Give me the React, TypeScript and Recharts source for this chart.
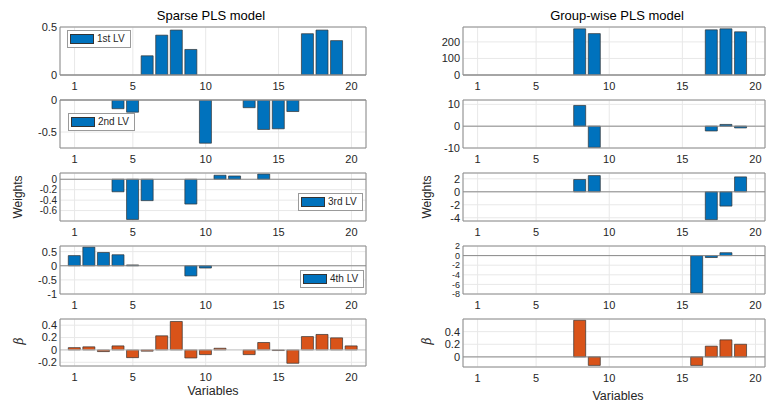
import React from 'react';
import { BarChart, Bar, XAxis, YAxis, CartesianGrid, ReferenceLine, Legend } from 'recharts';

const variables = [1, 2, 3, 4, 5, 6, 7, 8, 9, 10, 11, 12, 13, 14, 15, 16, 17, 18, 19, 20];
const xTicks = [1, 5, 10, 15, 20];

// Sparse PLS model weights
const sparseLV1 = [0, 0, 0, 0, 0, 0.2, 0.415, 0.468, 0.266, 0, 0, 0, 0, 0, 0, 0, 0.43, 0.468, 0.358, 0];
const sparseLV2 = [0, 0, 0, -0.136, -0.19, 0, 0, 0, 0, -0.675, 0, 0, -0.12, -0.46, -0.45, -0.18, 0, 0, 0, 0];
const sparseLV3 = [0, 0, 0, -0.24, -0.77, -0.41, 0, 0, -0.475, 0, 0.077, 0.063, 0, 0.1, 0, 0, 0, 0, 0, 0];
const sparseLV4 = [0.36, 0.66, 0.47, 0.39, 0.03, 0, 0, 0, -0.36, -0.08, 0, 0, 0, 0, 0, 0, 0, 0, 0, 0];
const sparseBeta = [0.037, 0.05, -0.027, 0.065, -0.125, -0.02, 0.228, 0.46, -0.13, -0.076, 0.027, 0, -0.076, 0.12, -0.01, -0.216, 0.216, 0.25, 0.195, 0.065];

// Group-wise PLS model weights
const groupLV1 = [0, 0, 0, 0, 0, 0, 0, 279, 250, 0, 0, 0, 0, 0, 0, 0, 273, 279, 261, 0];
const groupLV2 = [0, 0, 0, 0, 0, 0, 0, 9.5, -9.7, 0, 0, 0, 0, 0, 0, 0, -2.2, 0.8, -0.8, 0];
const groupLV3 = [0, 0, 0, 0, 0, 0, 0, 1.9, 2.5, 0, 0, 0, 0, 0, 0, 0, -4.3, -2.2, 2.3, 0];
const groupLV4 = [0, 0, 0, 0, 0, 0, 0, 0, 0, 0, 0, 0, 0, 0, 0, -7.8, -0.4, 0.6, 0, 0];
const groupBeta = [0, 0, 0, 0, 0, 0, 0, 0.58, -0.135, 0, 0, 0, 0, 0, 0, -0.135, 0.17, 0.27, 0.2, 0];

const BLUE = '#0072BD';
const ORANGE = '#D95319';
const BOX = '#8c8c8c';
const FONT = '"Liberation Sans", Arial, sans-serif';

const YW = 60;
const XH = 30;
const PAD = 5;

type LegendSpec = { label: string; x: number; y: number };

const LegendBox = ({ label, color }: { label: string; color: string }) => (
  <div style={{
    display: 'flex', alignItems: 'center', border: '1px solid #9a9a9a', background: '#fff',
    padding: '3px 5px 3px 2px', fontSize: 10, fontFamily: FONT, color: '#262626', lineHeight: '10px',
  }}>
    <span style={{ width: 22, height: 8, background: color, border: '1px solid #333', marginRight: 3 }} />
    {label}
  </div>
);

function Panel({ data, px, py, pw, ph, xMax, yDomain, yTicks, color, zero = '#8a8a8a', legend, yFont = 11 }: {
  data: number[]; px: number; py: number; pw: number; ph: number; xMax: number;
  yDomain: [number, number]; yTicks: number[]; color: string; zero?: string; legend?: LegendSpec; yFont?: number;
}) {
  const rows = variables.map((v, i) => ({ v, w: data[i] }));
  const left = px - YW;
  const top = py - PAD;
  return (
    <div style={{ position: 'absolute', left, top }}>
      <BarChart width={pw + YW + PAD} height={ph + PAD + XH} data={rows}
        margin={{ top: PAD, right: PAD, bottom: 0, left: 0 }}>
        <CartesianGrid stroke="#e8e8e8" />
        <XAxis dataKey="v" type="number" domain={[0, xMax]} ticks={xTicks} interval={0} allowDataOverflow
          height={XH} tickSize={4} tickMargin={3} tickLine={false} axisLine={{ stroke: BOX }}
          tick={{ fill: '#262626', fontSize: 11, fontFamily: FONT }} />
        <YAxis type="number" domain={yDomain} ticks={yTicks} interval={0} allowDataOverflow
          width={YW} tickSize={2} tickMargin={1} tickLine={false} axisLine={{ stroke: BOX }}
          tick={{ fill: '#262626', fontSize: yFont, fontFamily: FONT }} />
        <Bar dataKey="w" fill={color} stroke="#333" strokeWidth={0.7} barSize={12} isAnimationActive={false} />
        <ReferenceLine y={0} stroke={zero} />
        <ReferenceLine y={yDomain[1]} stroke={BOX} />
        <ReferenceLine x={xMax} stroke={BOX} />
        {legend && (
          <Legend layout="horizontal" verticalAlign="middle" align="center"
            wrapperStyle={{ left: legend.x - left, top: legend.y - top, width: 'auto', height: 'auto' }}
            content={() => <LegendBox label={legend.label} color={color} />} />
        )}
      </BarChart>
    </div>
  );
}

const rowTops = [27, 100, 173, 246, 319];
const RH = 48;

const textStyle: React.CSSProperties = {
  position: 'absolute', transform: 'translate(-50%, -50%)', whiteSpace: 'nowrap',
  fontFamily: FONT, color: '#262626',
};

export default function App() {
  const L = { px: 60, pw: 306, xMax: 21 };
  const R = { px: 463, pw: 302, xMax: 20.65 };
  return (
    <div style={{ position: 'absolute', left: 0, top: 0, width: 767, height: 409, overflow: 'hidden', background: '#fff' }}>
      <div style={{ ...textStyle, left: 211, top: 15, fontSize: 13, color: '#000' }}>Sparse PLS model</div>
      <div style={{ ...textStyle, left: 617, top: 15, fontSize: 13, color: '#000' }}>Group-wise PLS model</div>

      <Panel data={sparseLV1} {...L} py={rowTops[0]} ph={RH} yDomain={[0, 0.5]} yTicks={[0, 0.5]} color={BLUE}
        legend={{ label: '1st LV', x: 67, y: 30 }} />
      <Panel data={sparseLV2} {...L} py={rowTops[1]} ph={RH} yDomain={[-0.75, 0]} yTicks={[-0.5, 0]} color={BLUE}
        legend={{ label: '2nd LV', x: 68, y: 113 }} />
      <Panel data={sparseLV3} {...L} py={rowTops[2]} ph={RH} yDomain={[-0.8, 0.12]} yTicks={[-0.6, -0.4, -0.2, 0]} color={BLUE}
        legend={{ label: '3rd LV', x: 298, y: 193 }} yFont={10} />
      <Panel data={sparseLV4} {...L} py={rowTops[3]} ph={RH} yDomain={[-1, 0.7]} yTicks={[-1, -0.5, 0, 0.5]} color={BLUE}
        legend={{ label: '4th LV', x: 300, y: 270 }} />
      <Panel data={sparseBeta} {...L} py={rowTops[4]} ph={47} yDomain={[-0.26, 0.5]} yTicks={[-0.2, 0, 0.2, 0.4]} color={ORANGE}
        zero="#c4c4c4" />

      <Panel data={groupLV1} {...R} py={rowTops[0]} ph={RH} yDomain={[0, 290]} yTicks={[0, 100, 200]} color={BLUE} />
      <Panel data={groupLV2} {...R} py={rowTops[1]} ph={RH} yDomain={[-10, 12]} yTicks={[-10, 0, 10]} color={BLUE} />
      <Panel data={groupLV3} {...R} py={rowTops[2]} ph={RH} yDomain={[-4.5, 2.9]} yTicks={[-4, -2, 0, 2]} color={BLUE} />
      <Panel data={groupLV4} {...R} py={rowTops[3]} ph={RH} yDomain={[-8, 2]} yTicks={[-8, -6, -4, -2, 0, 2]} color={BLUE}
        yFont={9} />
      <Panel data={groupBeta} {...R} py={rowTops[4]} ph={RH} yDomain={[-0.16, 0.6]} yTicks={[0, 0.2, 0.4]} color={ORANGE} />

      <div style={{ ...textStyle, left: 18, top: 197, fontSize: 12, transform: 'translate(-50%, -50%) rotate(-90deg)' }}>Weights</div>
      <div style={{ ...textStyle, left: 427, top: 197, fontSize: 12, transform: 'translate(-50%, -50%) rotate(-90deg)' }}>Weights</div>
      <div style={{ ...textStyle, left: 19, top: 341, fontSize: 12, fontStyle: 'italic', fontFamily: '"DejaVu Serif", serif', transform: 'translate(-50%, -50%) rotate(-90deg)' }}>β</div>
      <div style={{ ...textStyle, left: 427, top: 341, fontSize: 12, fontStyle: 'italic', fontFamily: '"DejaVu Serif", serif', transform: 'translate(-50%, -50%) rotate(-90deg)' }}>β</div>

      <div style={{ ...textStyle, left: 213, top: 391, fontSize: 12.5 }}>Variables</div>
      <div style={{ ...textStyle, left: 618, top: 396, fontSize: 12.5 }}>Variables</div>
    </div>
  );
}
